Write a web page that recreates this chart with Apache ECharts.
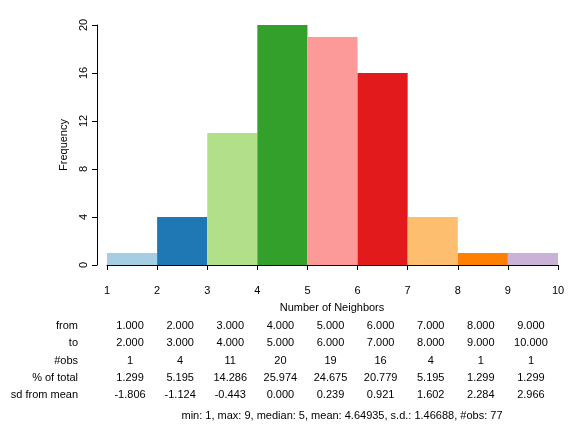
<!DOCTYPE html>
<html><head><meta charset="utf-8">
<script src="https://cdn.jsdelivr.net/npm/echarts@6/dist/echarts.min.js"></script>
<style>html,body{margin:0;background:#fff}#c{width:584px;height:438px}</style>
</head><body><div id="c"></div>
<script>
const binFrom = [1,2,3,4,5,6,7,8,9];
const binTo = [2,3,4,5,6,7,8,9,10];
const counts = [1,4,11,20,19,16,4,1,1];
const pctTotal = ['1.299','5.195','14.286','25.974','24.675','20.779','5.195','1.299','1.299'];
const sdFromMean = ['-1.806','-1.124','-0.443','0.000','0.239','0.921','1.602','2.284','2.966'];
const colors = ['#A6CEE3','#1F78B4','#B2DF8A','#33A02C','#FB9A99','#E31A1C','#FDBF6F','#FF7F00','#CAB2D6'];
const xTicks = [1,2,3,4,5,6,7,8,9,10];
const yTicks = [0,4,8,12,16,20];
const footer = 'min: 1, max: 9, median: 5, mean: 4.64935, s.d.: 1.46688, #obs: 77';
const F = 'Liberation Sans, Arial, sans-serif';

const chart = echarts.init(document.getElementById('c'));
chart.setOption({
  animation:false,
  grid:{left:107,width:451,top:25,height:240},
  xAxis:{type:'value',min:1,max:10,interval:1,offset:12,
    axisLine:{lineStyle:{color:'#000'}},axisTick:{length:5,lineStyle:{color:'#000'}},
    splitLine:{show:false},axisLabel:{color:'#000',fontFamily:F,fontSize:11,margin:8}},
  yAxis:{type:'value',min:0,max:20,interval:4,offset:10,
    axisLine:{show:true,lineStyle:{color:'#000'}},axisTick:{show:true,length:5,lineStyle:{color:'#000'}},
    splitLine:{show:false},axisLabel:{color:'#000',fontFamily:F,fontSize:11,rotate:90,margin:8}},
  series:[{type:'custom',
    data:counts.map((c,i)=>[binFrom[i],binTo[i],c]),
    renderItem:(p,api)=>{
      const a=api.coord([api.value(0),api.value(2)]), b=api.coord([api.value(1),0]);
      return {type:'rect',shape:{x:a[0],y:a[1],width:b[0]-a[0],height:b[1]-a[1]},style:{fill:colors[p.dataIndex]}};
    }}]
});
const g=[];
const txt=(x,y,t,align)=>g.push({type:'text',x,y,style:{text:t,fill:'#000',font:'11px '+F,align:align||'center',verticalAlign:'middle'}});
const ly=chart.convertToPixel({yAxisIndex:0},10);
g.push({type:'text',x:64,y:ly,rotation:Math.PI/2,style:{text:'Frequency',fill:'#000',font:'11px '+F,align:'center',verticalAlign:'middle'}});
txt(332,308,'Number of Neighbors');
const rows=[['from',binFrom.map(v=>v.toFixed(3))],['to',binTo.map(v=>v.toFixed(3))],['#obs',counts.map(String)],['% of total',pctTotal],['sd from mean',sdFromMean]];
rows.forEach((r,ri)=>{
  const y=326+ri*17.3;
  txt(78,y,r[0],'right');
  r[1].forEach((t,i)=>txt(chart.convertToPixel({xAxisIndex:0},(binFrom[i]+binTo[i])/2)-2,y,t));
});
txt(342,416,footer);
chart.setOption({graphic:g});
</script></body></html>
